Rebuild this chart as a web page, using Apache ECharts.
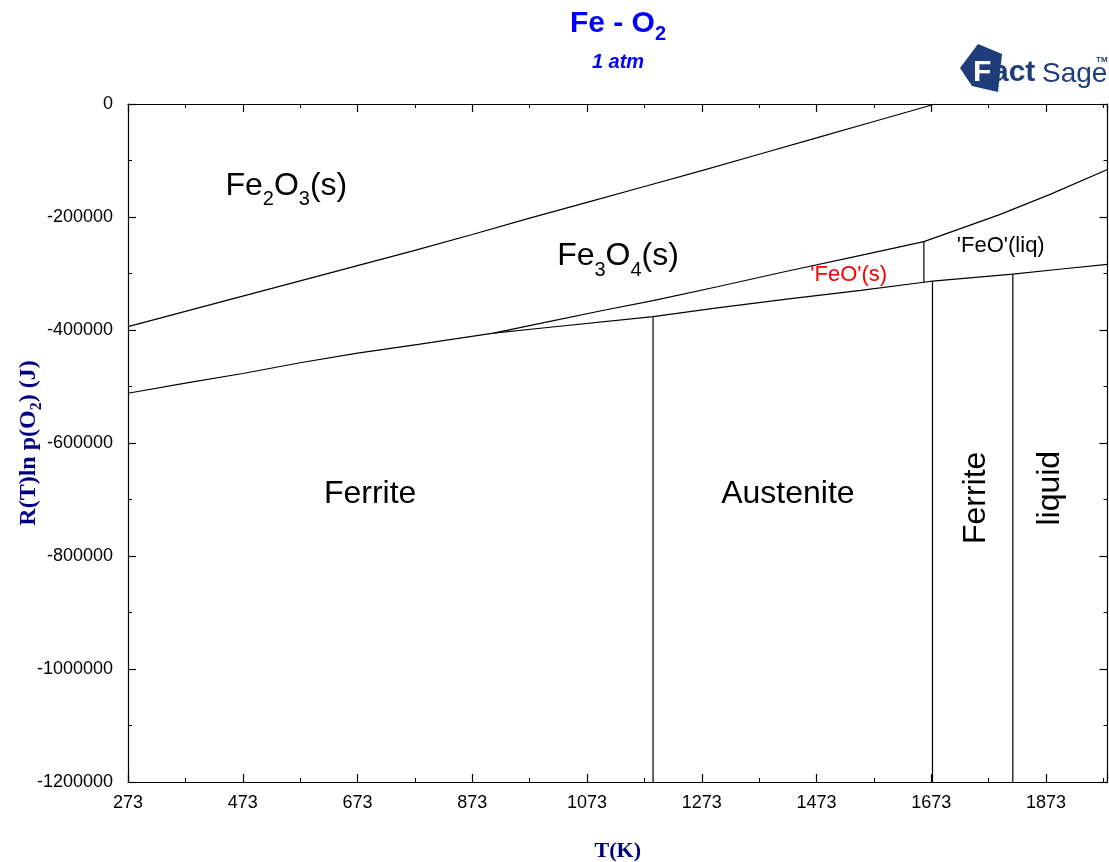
<!DOCTYPE html>
<html>
<head>
<meta charset="utf-8">
<script src="https://cdn.jsdelivr.net/npm/echarts@6/dist/echarts.min.js"></script>
<style>
  html, body { margin: 0; padding: 0; background: #ffffff; }
  #chart { width: 1109px; height: 862px; }
</style>
</head>
<body>
<div id="chart"></div>
<script>
// Axis ranges: temperature T (K) and oxygen potential RT ln p(O2) (J)
const T_MIN = 273, T_MAX = 1980, T_STEP = 200;
const G_MIN = -1200000, G_MAX = 0, G_STEP = 200000;

// Phase boundaries as [T (K), RT ln p(O2) (J)]
const fe2o3Fe3o4 = [
  [273, -394000], [373, -367000], [473, -340000], [573, -313000], [673, -286000],
  [773, -259000], [873, -231000], [973, -202000], [1073, -174000], [1173, -146000],
  [1273, -118000], [1373, -89000], [1473, -60000], [1573, -31000], [1680, 0]
];
const fe3o4Fe = [
  [273, -512000], [373, -494000], [473, -477000], [573, -458000], [673, -441000],
  [782, -425000], [910, -405500]
];
const feoFe = [
  [910, -405500], [1000, -396000], [1188, -376400], [1300, -361000], [1421, -345500],
  [1550, -330000], [1660, -315500], [1675, -313500], [1815, -301200], [1900, -292000],
  [1980, -283700]
];
const fe3o4FeoSolid = [
  [910, -405500], [1000, -386500], [1100, -365500], [1188, -348000], [1300, -323500],
  [1421, -296000], [1550, -268000], [1660, -243500]
];
const fe3o4FeoLiquid = [
  [1660, -243500], [1720, -222000], [1792, -195700], [1880, -160000], [1980, -116000]
];

// Invariant temperatures (vertical boundaries)
const alphaGamma = [[1188, G_MIN], [1188, -376400]];
const feoMelting = [[1660, -315500], [1660, -243500]];
const gammaDelta = [[1675, G_MIN], [1675, -313500]];
const feMelting = [[1815, G_MIN], [1815, -301200]];

// Phase-field names and where they sit, in data units
const fieldText = [
  '{m|Fe}{s|2}{m|O}{s|3}{m|(s)}',
  '{m|Fe}{s|3}{m|O}{s|4}{m|(s)}',
  "{r|'FeO'(s)}",
  "{k|'FeO'(liq)}",
  '{m|Ferrite}',
  '{m|Austenite}',
  '{m|Ferrite}',
  '{m|liquid}'
];
const fieldAt = [
  [549, -145000], [1127, -269000], [1529, -302500], [1794, -252000],
  [695, -690000], [1423, -690000], [1751, -697000], [1880, -680000]
];
const fieldRotate = [0, 0, 0, 0, 0, 0, 90, 90];

const SANS = '"Liberation Sans", Arial, sans-serif';
const SERIF = '"Liberation Serif", "Times New Roman", serif';

const chart = echarts.init(document.getElementById('chart'), null, { renderer: 'canvas' });

const boundaryStyle = { color: '#000000', width: 1.2 };
function boundary(data) {
  return {
    type: 'line', data: data, showSymbol: false, symbol: 'none', smooth: false,
    lineStyle: boundaryStyle, silent: true, z: 3
  };
}

const tickCommon = {
  axisLine: { show: true, onZero: false, lineStyle: { color: '#000000', width: 1.2 } },
  axisTick: { show: true, inside: true, length: 8, lineStyle: { color: '#000000', width: 1.2 } },
  minorTick: { show: true, splitNumber: 2, length: 4, lineStyle: { color: '#000000', width: 1 } },
  splitLine: { show: false },
  minorSplitLine: { show: false }
};

const richLabel = {
  m: { fontFamily: SANS, fontSize: 32, color: '#000000', lineHeight: 48 },
  s: { fontFamily: SANS, fontSize: 20, color: '#000000', verticalAlign: 'top', padding: [28, 0, 0, 0] },
  r: { fontFamily: SANS, fontSize: 22, color: '#ff0000', lineHeight: 28 },
  k: { fontFamily: SANS, fontSize: 22, color: '#000000', lineHeight: 28 }
};

const option = {
  animation: false,
  backgroundColor: '#ffffff',
  grid: { left: 128, right: 1.5, top: 104, bottom: 80, containLabel: false, outerBoundsMode: 'none' },
  xAxis: [
    Object.assign({
      type: 'value', min: T_MIN, max: T_MAX, interval: T_STEP, position: 'bottom',
      name: 'T(K)', nameLocation: 'middle', nameGap: 58, nameMoveOverlap: false,
      nameTextStyle: { fontFamily: SERIF, fontWeight: 'bold', fontSize: 22, color: '#000080' },
      axisLabel: {
        show: true, margin: 12, fontFamily: SANS, fontSize: 18, color: '#000000',
        showMaxLabel: false, formatter: v => String(v)
      }
    }, tickCommon),
    Object.assign({
      type: 'value', min: T_MIN, max: T_MAX, interval: T_STEP, position: 'top',
      axisLabel: { show: false }
    }, tickCommon)
  ],
  yAxis: [
    Object.assign({
      type: 'value', min: G_MIN, max: G_MAX, interval: G_STEP, position: 'left',
      name: '{a|R(T)ln p(O}{b|2}{a|) (J)}', nameLocation: 'middle', nameGap: 82, nameRotate: 90,
      nameMoveOverlap: false,
      nameTextStyle: {
        rich: {
          a: { fontFamily: SERIF, fontWeight: 'bold', fontSize: 24, color: '#000080', lineHeight: 34 },
          b: { fontFamily: SERIF, fontWeight: 'bold', fontSize: 16, color: '#000080', verticalAlign: 'top', padding: [17, 0, 0, 0] }
        }
      },
      axisLabel: {
        show: true, margin: 15, fontFamily: SANS, fontSize: 18, color: '#000000',
        formatter: v => String(v)
      }
    }, tickCommon),
    Object.assign({
      type: 'value', min: G_MIN, max: G_MAX, interval: G_STEP, position: 'right',
      axisLabel: { show: false }
    }, tickCommon)
  ],
  series: [
    boundary(fe2o3Fe3o4),
    boundary(fe3o4Fe),
    boundary(feoFe),
    boundary(fe3o4FeoSolid),
    boundary(fe3o4FeoLiquid),
    boundary(alphaGamma),
    boundary(feoMelting),
    boundary(gammaDelta),
    boundary(feMelting),
    {
      type: 'scatter', symbolSize: 0, silent: true, z: 5,
      itemStyle: { opacity: 1 },
      data: fieldAt.map((p, i) => ({
        value: p,
        label: {
          show: true, position: 'inside', formatter: fieldText[i], rotate: fieldRotate[i],
          color: '#000000', opacity: 1, rich: richLabel
        }
      }))
    }
  ],
  graphic: [
    {
      type: 'text', x: 618, y: 24, silent: true,
      style: {
        text: '{t|Fe - O}{u|2}', align: 'center', verticalAlign: 'middle',
        rich: {
          t: { fontFamily: SANS, fontWeight: 'bold', fontSize: 30, fill: '#0000ff', lineHeight: 44 },
          u: { fontFamily: SANS, fontWeight: 'bold', fontSize: 20, fill: '#0000ff', verticalAlign: 'top', padding: [22, 0, 0, 0] }
        }
      }
    },
    {
      type: 'text', x: 618, y: 62, silent: true,
      style: {
        text: '1 atm', align: 'center', verticalAlign: 'middle',
        font: 'italic bold 20px ' + SANS, fill: '#0000ff'
      }
    },
    {
      type: 'group', x: 958, y: 42, silent: true,
      children: [
        { type: 'polygon', shape: { points: [[2, 26], [20, 2], [44, 12], [40, 50], [14, 44]] }, style: { fill: '#1f3d7a' } },
        { type: 'text', x: 15, y: 16, style: { text: 'F', font: 'bold 30px ' + SANS, fill: '#ffffff' } },
        { type: 'text', x: 34, y: 16, style: { text: 'act', font: 'bold 30px ' + SANS, fill: '#1f3d7a' } },
        { type: 'text', x: 84, y: 18, style: { text: 'Sage', font: '28px "Liberation Sans Narrow", ' + SANS, fill: '#1f3d7a' } },
        { type: 'text', x: 138, y: 14, style: { text: 'TM', font: 'bold 8px ' + SANS, fill: '#1f3d7a' } }
      ]
    }
  ]
};

chart.setOption(option);
</script>
</body>
</html>
